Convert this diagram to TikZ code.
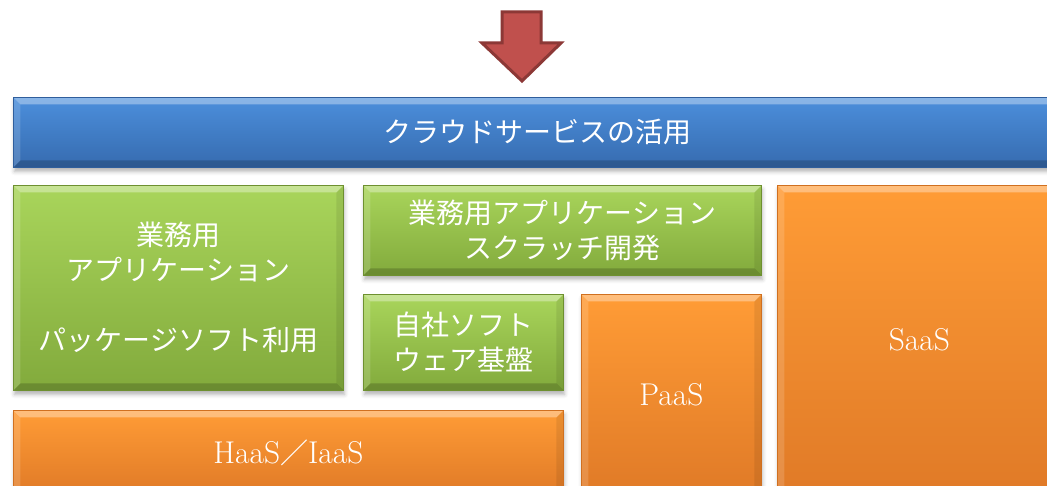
\documentclass[tikz,border=0pt]{standalone}
\usepackage{fontspec}
\newfontfamily\jp{Noto Sans CJK JP}
\usetikzlibrary{shadows.blur}
\definecolor{bluetop}{HTML}{4C8FDC}
\definecolor{bluebot}{HTML}{366BAF}
\definecolor{blueedge}{HTML}{2F5E9C}
\definecolor{greentop}{HTML}{A9D55B}
\definecolor{greenbot}{HTML}{82AA3C}
\definecolor{greenedge}{HTML}{6E9030}
\definecolor{orangetop}{HTML}{FF9C36}
\definecolor{orangebot}{HTML}{E07A27}
\definecolor{orangeedge}{HTML}{D07020}
\definecolor{arrowfill}{HTML}{C0504D}
\definecolor{arrowedge}{HTML}{8C3836}
\tikzset{
  bevel/.style={path picture={
    \coordinate (bNW) at (path picture bounding box.north west);
    \coordinate (bNE) at (path picture bounding box.north east);
    \coordinate (bSW) at (path picture bounding box.south west);
    \coordinate (bSE) at (path picture bounding box.south east);
    \fill[white,opacity=.35] (bNW) -- (bNE) -- ([shift={(-7pt,-7pt)}]bNE) -- ([shift={(7pt,-7pt)}]bNW) -- cycle;
    \fill[white,opacity=.15] (bNW) -- ([shift={(7pt,-7pt)}]bNW) -- ([shift={(7pt,7pt)}]bSW) -- (bSW) -- cycle;
    \fill[black,opacity=.18] (bSW) -- ([shift={(7pt,7pt)}]bSW) -- ([shift={(-7pt,7pt)}]bSE) -- (bSE) -- cycle;
    \fill[black,opacity=.08] (bNE) -- (bSE) -- ([shift={(-7pt,7pt)}]bSE) -- ([shift={(-7pt,-7pt)}]bNE) -- cycle;
  }},
  boxbase/.style={rectangle, inner sep=0pt, anchor=north west, text=white, align=center,
    font=\jp\fontsize{28}{35}\selectfont, line width=0.8pt,
    blur shadow={shadow xshift=1pt, shadow yshift=-4pt, shadow blur radius=4pt, shadow opacity=30},
    bevel},
  bluebox/.style={boxbase, top color=bluetop, bottom color=bluebot, draw=blueedge},
  greenbox/.style={boxbase, top color=greentop, bottom color=greenbot, draw=greenedge},
  orangebox/.style={boxbase, top color=orangetop, bottom color=orangebot, draw=orangeedge},
  latin/.style={font=\rmfamily\fontsize{31.5}{35}\selectfont},
}
\begin{document}
\begin{tikzpicture}[x=1pt,y=-1pt]
\useasboundingbox (0,0) rectangle (1047,486);
\clip (0,0) rectangle (1047,486);
% arrow
\draw[fill=arrowfill, draw=arrowedge, line width=3pt, line join=miter]
  (502,12) -- (541,12) -- (541,43) -- (561,43) -- (522,81) -- (482,43) -- (502,43) -- cycle;
% boxes
\node[bluebox, minimum width=1048pt, minimum height=70pt] (cloud) at (13,97) {クラウドサービスの活用};
\node[greenbox, minimum width=330pt, minimum height=205pt] (pkg) at (13,185)
  {業務用\\アプリケーション\\[35pt]パッケージソフト利用};
\node[greenbox, minimum width=398pt, minimum height=90pt] (scratch) at (363,185)
  {業務用アプリケーション\\スクラッチ開発};
\node[greenbox, minimum width=200pt, minimum height=96pt] (base) at (363,294)
  {自社ソフト\\ウェア基盤};
\node[orangebox, latin, minimum width=550pt, minimum height=84pt] (haas) at (13,410)
  {HaaS{\jp\fontsize{28}{35}\selectfont ／}IaaS};
\node[orangebox, latin, minimum width=180pt, minimum height=200pt] (paas) at (581,294) {PaaS};
\node[orangebox, latin, minimum width=284pt, minimum height=309pt] (saas) at (777,185) {SaaS};
\end{tikzpicture}
\end{document}
